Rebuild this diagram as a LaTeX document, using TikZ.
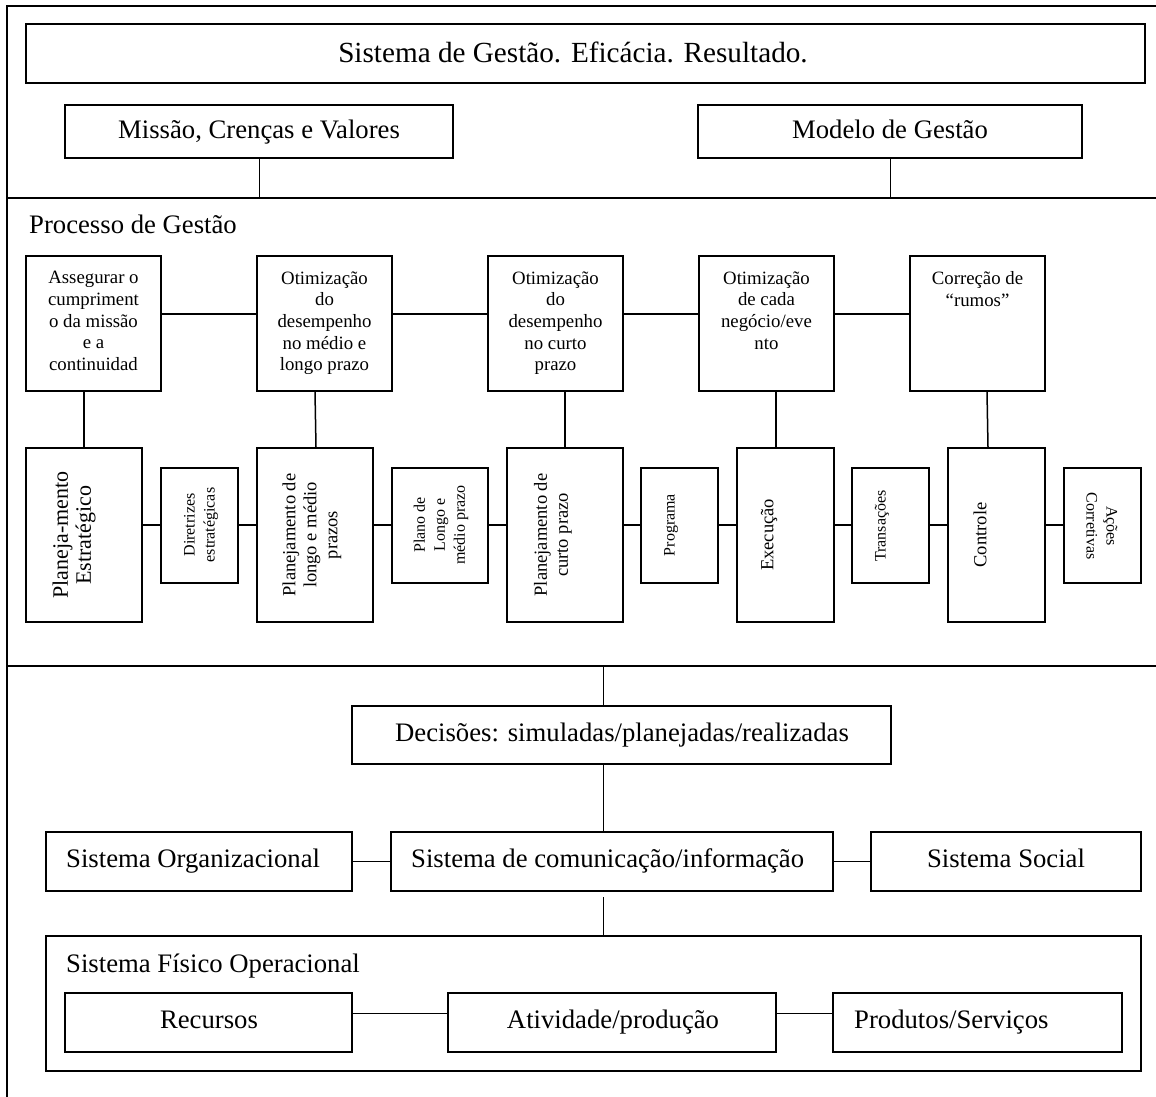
\documentclass[tikz,border=0pt]{standalone}
\usepackage{fontspec}
\setmainfont{Liberation Serif}
\usetikzlibrary{fit}

\tikzset{
  box/.style={draw, line width=1.6pt, inner sep=0pt},
  frameline/.style={line width=2pt},
  conn/.style={line width=1.5pt},
  thinconn/.style={line width=1pt},
  txt/.style={inner sep=0pt, align=center},
  % single-line labels: the node is as tall as the capitals, so its centre is the cap middle
  ftitle/.style={font=\fontsize{29.2}{34}\selectfont, text height=19.3pt, text depth=0pt},
  fbig/.style={font=\fontsize{26.7}{32}\selectfont, text height=17.7pt, text depth=0pt},
  fmid/.style={font=\fontsize{18.8}{21.7}\selectfont},
  fvert/.style={font=\fontsize{22}{23}\selectfont},
  flow/.style={font=\fontsize{18.5}{21}\selectfont},
  fsmall/.style={font=\fontsize{16}{20}\selectfont},
}

\begin{document}
\begin{tikzpicture}[x=1pt,y=-1pt]
\useasboundingbox (0,0) rectangle (1156,1097);

% outer frame and section separators
\coordinate (ftl) at (7,6);
\coordinate (ftr) at (1156,6);
\coordinate (fbl) at (7,1097);
\coordinate (s1l) at (7,198);
\coordinate (s1r) at (1156,198);
\coordinate (s2l) at (7,666);
\coordinate (s2r) at (1156,666);
\draw[frameline] (ftr) -- (ftl) -- (fbl);
\draw[frameline] (s1l) -- (s1r);
\draw[frameline] (s2l) -- (s2r);

% ---- upper section ----
\node[box, fit={(26,24) (1145,83)}] (top) {};
\node[txt, ftitle] (ttop) at (573,52.5) {Sistema de Gestão. Eficácia. Resultado.};
\node[box, fit={(65,105) (453,158)}] (mis) {};
\node[txt, fbig] (tmis) at (259,129.5) {Missão, Crenças e Valores};
\node[box, fit={(698,105) (1082,158)}] (mod) {};
\node[txt, fbig] (tmod) at (890,129.5) {Modelo de Gestão};
\draw[thinconn] (mis.south) -- (mis.south |- s1l);
\draw[thinconn] (mod.south) -- (mod.south |- s1l);

% ---- management process ----
\node[txt, fbig, anchor=west] (proc) at (29,225) {Processo de Gestão};

\node[box, fit={(26,256) (161,391)}] (u1) {};
\node[box, fit={(257,256) (392,391)}] (u2) {};
\node[box, fit={(488,256) (623,391)}] (u3) {};
\node[box, fit={(699,256) (834,391)}] (u4) {};
\node[box, fit={(910,256) (1045,391)}] (u5) {};
\node[txt, fmid, anchor=north] (tu1) at ([yshift=-16pt]u1.north) {Assegurar o\\cumpriment\\o da missão\\e a\\continuidad};
\node[txt, fmid, anchor=north] (tu2) at ([yshift=-16pt]u2.north) {Otimização\\do\\desempenho\\no médio e\\longo prazo};
\node[txt, fmid, anchor=north] (tu3) at ([yshift=-16pt]u3.north) {Otimização\\do\\desempenho\\no curto\\prazo};
\node[txt, fmid, anchor=north] (tu4) at ([yshift=-16pt]u4.north) {Otimização\\de cada\\negócio/eve\\nto};
\node[txt, fmid, anchor=north] (tu5) at ([yshift=-16pt]u5.north) {Correção de\\“rumos”};

\foreach \a/\b in {u1/u2,u2/u3,u3/u4,u4/u5}
  \draw[conn] (\a.east |- 0,314) -- (\b.west |- 0,314);

\node[box, fit={(26,448) (142,622)}] (l1) {};
\node[box, fit={(161,468) (238,583)}] (d1) {};
\node[box, fit={(257,448) (373,622)}] (l2) {};
\node[box, fit={(392,468) (488,583)}] (d2) {};
\node[box, fit={(507,448) (623,622)}] (l3) {};
\node[box, fit={(641,468) (718,583)}] (d3) {};
\node[box, fit={(737,448) (834,622)}] (l4) {};
\node[box, fit={(852,468) (929,583)}] (d4) {};
\node[box, fit={(948,448) (1045,622)}] (l5) {};
\node[box, fit={(1064,468) (1141,583)}] (d5) {};

\node[txt, fvert, rotate=90] (tl1) at (74,535) {Planeja-mento\\Estratégico};
\node[txt, fsmall, rotate=90] (td1) at (201,525) {Diretrizes\\estratégicas};
\node[txt, flow, rotate=90] (tl2) at (312,535) {Planejamento de\\longo e médio\\prazos};
\node[txt, fsmall, rotate=90] (td2) at (441,525) {Plano de\\Longo e\\médio prazo};
\node[txt, flow, rotate=90] (tl3) at (553,535) {Planejamento de\\curto prazo};
\node[txt, fsmall, rotate=90] (td3) at (671,525) {Programa};
\node[txt, flow, rotate=90] (tl4) at (769,535) {Execução};
\node[txt, fsmall, rotate=90] (td4) at (882,526) {Transações};
\node[txt, flow, rotate=90] (tl5) at (980,535) {Controle};
\node[txt, fsmall, rotate=-90] (td5) at (1102,526) {Ações\\Corretivas};

\foreach \a/\b in {l1/d1,d1/l2,l2/d2,d2/l3,l3/d3,d3/l4,l4/d4,d4/l5,l5/d5}
  \draw[conn] (\a.east |- 0,525) -- (\b.west |- 0,525);

\draw[conn] (u1.south -| 84,0) -- (l1.north -| 84,0);
\draw[conn] (u2.south -| 315,0) -- (l2.north -| 316,0);
\draw[conn] (u3.south -| 565,0) -- (l3.north -| 565,0);
\draw[conn] (u4.south -| 776,0) -- (l4.north -| 776,0);
\draw[conn] (u5.south -| 987,0) -- (l5.north -| 988,0);

% ---- decisions and systems ----
\node[box, fit={(352,706) (891,764)}] (dec) {};
\node[txt, fbig] (tdec) at (622,733) {Decisões: simuladas/planejadas/realizadas};
\node[box, fit={(46,832) (352,891)}] (org) {};
\node[txt, fbig, anchor=west] (torg) at (66,859) {Sistema Organizacional};
\node[box, fit={(391,832) (833,891)}] (com) {};
\node[txt, fbig, anchor=west] (tcom) at (411,859) {Sistema de comunicação/informação};
\node[box, fit={(871,832) (1141,891)}] (soc) {};
\node[txt, fbig] (tsoc) at (1006,859) {Sistema Social};

\node[box, fit={(46,936) (1141,1071)}] (phys) {};
\node[txt, fbig, anchor=west] (tphys) at (66,964) {Sistema Físico Operacional};
\node[box, fit={(65,993) (352,1052)}] (rec) {};
\node[txt, fbig] (trec) at (209,1020) {Recursos};
\node[box, fit={(448,993) (776,1052)}] (atv) {};
\node[txt, fbig] (tatv) at (613,1020) {Atividade/produção};
\node[box, fit={(833,993) (1122,1052)}] (prd) {};
\node[txt, fbig, anchor=west] (tprd) at (854,1020) {Produtos/Serviços};

\coordinate (sp) at (603,666);
\coordinate (gap) at (603,897);
\draw[thinconn] (sp) -- (sp |- dec.north);
\draw[thinconn] (sp |- dec.south) -- (sp |- com.north);
\draw[thinconn] (gap) -- (gap |- phys.north);
\draw[conn] (org.east) -- (com.west);
\draw[conn] (com.east) -- (soc.west);
\draw[thinconn] (rec.east |- 0,1013) -- (atv.west |- 0,1013);
\draw[thinconn] (atv.east |- 0,1013) -- (prd.west |- 0,1013);
\end{tikzpicture}
\end{document}
